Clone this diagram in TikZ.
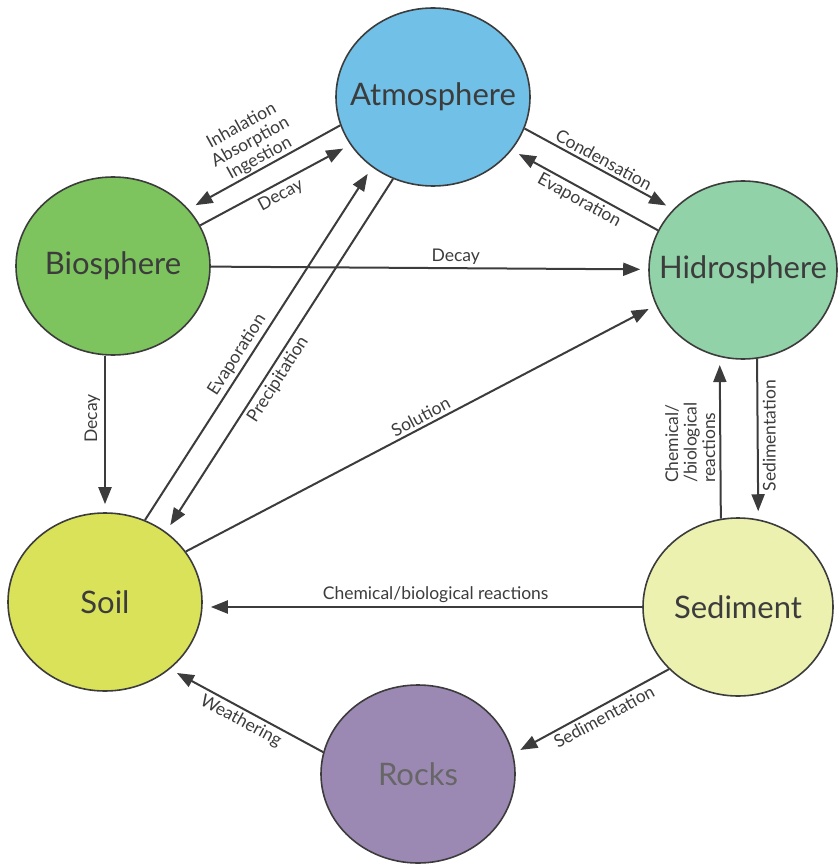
\documentclass[tikz,border=0pt]{standalone}
\usepackage{fontspec}
\setmainfont{Lato}
\usepackage{tikz}
\usetikzlibrary{shapes.geometric,arrows.meta}

\definecolor{atmblue}{HTML}{70C0E8}
\definecolor{biogreen}{HTML}{7DC45E}
\definecolor{hidgreen}{HTML}{92D2A8}
\definecolor{soilyellow}{HTML}{DAE25A}
\definecolor{sedyellow}{HTML}{ECF1B0}
\definecolor{rockpurple}{HTML}{9B89B4}
\definecolor{inkgray}{HTML}{3C3C3C}

\newcommand{\spherename}[1]{\makebox[0pt]{#1}}

\begin{document}
\begin{tikzpicture}[x=1pt, y=-1pt,
  sphere/.style={ellipse, draw=inkgray, line width=1.6pt, minimum width=194pt, minimum height=178pt, inner sep=0pt, text=inkgray, font=\fontsize{31}{33}\selectfont},
  flow/.style={draw=inkgray, line width=2pt, -{Triangle[length=17pt,width=13pt]}, shorten >=8pt},
  lbl/.style={font=\fontsize{17.5}{18.5}\selectfont, text=inkgray, sloped, inner sep=3pt},
  vlbl/.style={font=\fontsize{17.5}{18.5}\selectfont, text=inkgray, rotate=90, inner sep=4pt}]
\useasboundingbox (0,0) rectangle (837,866);

\node (atm) [sphere, fill=atmblue] at (433,97) {\spherename{Atmosphere}};

\node (bio) [sphere, fill=biogreen] at (113,266) {\spherename{Biosphere}};

\node (hid) [sphere, fill=hidgreen, minimum width=188pt] at (743,270) {\spherename{Hidrosphere}};

\node (soil) [sphere, fill=soilyellow] at (105,602) {\spherename{Soil}};

\node (sed) [sphere, fill=sedyellow, minimum width=190pt] at (738,607) {\spherename{Sediment}};

\node (rocks) [sphere, fill=rockpurple, text=black!60] at (418,774) {\spherename{Rocks}};

\draw[flow] (atm.197.6) -- node[lbl, above, align=center, inner sep=1pt] {Inhalation\\Absorption\\Ingestion} (bio.37.5);
\draw[flow] (bio.25) -- node[lbl, below] {Decay} (atm.210);

\draw[flow] (atm.341.9) -- node[lbl, above] {Condensation} (hid.139.5);
\draw[flow] (hid.155) -- node[lbl, below] {Evaporation} (atm.326.4);

\draw[flow] (bio) -- node[lbl, above, pos=0.56] {Decay} (hid);
\draw[flow] (soil.north |- bio.south) -- node[vlbl, anchor=south, pos=0.4] {Decay} (soil.north);

\draw[flow] (soil.64.3) -- node[lbl, above, pos=0.45] {Evaporation} (atm.229.5);
\draw[flow] (atm.244.3) -- node[lbl, below, pos=0.55] {Precipitation} (soil.49.5);
\draw[flow] (soil.32.6) -- node[lbl, above, pos=0.51] {Solution} (hid.202.1);

\draw[flow] (sed.101.5) -- node[vlbl, anchor=south, align=left, pos=0.47] {Chemical/\\/biological\\reactions} (hid.255.1);
\draw[flow] (hid.279) -- node[vlbl, anchor=north, pos=0.48] {Sedimentation} (sed.77.8);

\draw[flow] (sed.west) -- node[lbl, above, pos=0.47] {Chemical/biological reactions} (sed.west -| soil.east);
\draw[flow] (sed.222.2) -- node[lbl, below, pos=0.45] {Sedimentation} (rocks.12.6);
\draw[flow] (rocks.167.7) -- node[lbl, below] {Weathering} (soil.314.5);

\end{tikzpicture}
\end{document}
